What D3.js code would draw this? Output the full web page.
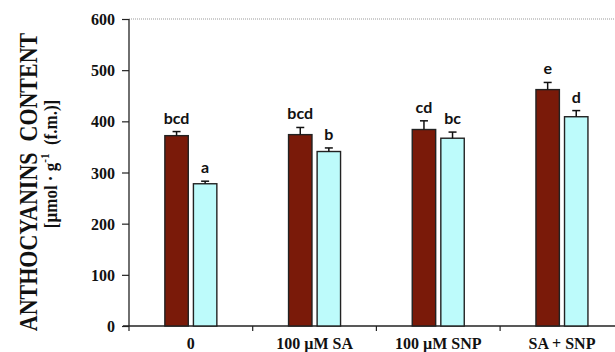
<!DOCTYPE html>
<html>
<head>
<meta charset="utf-8">
<script src="https://cdn.jsdelivr.net/npm/d3@7"></script>
<style>
  body { margin: 0; background: #fff; }
  .tick-lbl { font-family: "Liberation Serif", "Times New Roman", serif; font-weight: bold; font-size: 16px; fill: #111; }
  .letter { font-family: Lato, "Open Sans", sans-serif; font-weight: bold; font-size: 16px; fill: #111; }
  .ytitle { font-family: "Liberation Serif", "Times New Roman", serif; font-weight: bold; fill: #111; white-space: pre; }
</style>
</head>
<body>
<div id="chart"></div>
<script>
// treatments on the x axis
var categories = ['0', '100 \u00b5M SA', '100 \u00b5M SNP', 'SA + SNP'];
// two series per treatment (dark bar, light bar)
var seriesA = [372, 374, 384, 462];
var errA = [8, 14, 17, 14];
var lettersA = ['bcd', 'bcd', 'cd', 'e'];
var seriesB = [278, 341, 367, 409];
var errB = [5, 7, 12, 12];
var lettersB = ['a', 'b', 'bc', 'd'];
var yTicks = [0, 100, 200, 300, 400, 500, 600];

var width = 615, height = 352;
var margin = {top: 19, left: 129, bottom: 26};
var catStep = 123.7;

var svg = d3.select('#chart').append('svg')
    .attr('width', width)
    .attr('height', height);

var y = d3.scaleLinear()
    .domain([0, 600])
    .range([height - margin.bottom, margin.top]);

var x = d3.scaleBand()
    .domain(categories)
    .range([margin.left, margin.left + catStep * categories.length])
    .padding(0);

var sub = d3.scaleBand()
    .domain(['A', 'B'])
    .range([-26, 26])
    .paddingInner(0.18);

var colors = {A: '#7a1a09', B: '#bdfbfb'};

// build rows
var rows = [];
categories.forEach(function(c, i) {
    rows.push({cat: c, s: 'A', v: seriesA[i], e: errA[i], l: lettersA[i]});
    rows.push({cat: c, s: 'B', v: seriesB[i], e: errB[i], l: lettersB[i]});
});

// dotted gridline at top
svg.append('line')
    .attr('x1', margin.left).attr('x2', width)
    .attr('y1', y(600)).attr('y2', y(600))
    .attr('stroke', '#999')
    .attr('stroke-width', 1)
    .attr('stroke-dasharray', '1,1');

// y axis
var yAxis = d3.axisLeft(y).tickValues(yTicks).tickSize(7).tickPadding(7);
var gy = svg.append('g')
    .attr('transform', 'translate(' + margin.left + ',0)')
    .call(yAxis);
gy.select('.domain').attr('stroke', '#222').attr('stroke-width', 1.3).attr('d', 'M0,' + y(600) + 'V' + y(0));
gy.selectAll('.tick line').attr('stroke', '#222').attr('stroke-width', 1.2);
gy.selectAll('.tick text').attr('class', 'tick-lbl').attr('dy', '0.35em');

// x axis
svg.append('line')
    .attr('x1', margin.left - 6).attr('x2', width)
    .attr('y1', y(0)).attr('y2', y(0))
    .attr('stroke', '#222').attr('stroke-width', 1.3);

svg.append('g').selectAll('.cat-tick')
    .data(d3.range(categories.length))
    .enter().append('line')
    .attr('x1', function(i) { return x.range()[0] + i * x.step(); })
    .attr('x2', function(i) { return x.range()[0] + i * x.step(); })
    .attr('y1', y(0))
    .attr('y2', y(0) + 5)
    .attr('stroke', '#222').attr('stroke-width', 1.2);

svg.append('g').selectAll('.cat-lbl')
    .data(categories)
    .enter().append('text')
    .attr('class', 'tick-lbl')
    .attr('x', function(d) { return x(d) + x.bandwidth() / 2; })
    .attr('y', 349)
    .attr('text-anchor', 'middle')
    .text(function(d) { return d; });

// bars
function barX(d) { return x(d.cat) + x.bandwidth() / 2 + sub(d.s); }

svg.append('g').selectAll('rect')
    .data(rows)
    .enter().append('rect')
    .attr('x', barX)
    .attr('y', function(d) { return y(d.v); })
    .attr('width', sub.bandwidth())
    .attr('height', function(d) { return y(0) - y(d.v); })
    .attr('fill', function(d) { return colors[d.s]; })
    .attr('stroke', '#222')
    .attr('stroke-width', 1.4);

// error bars (upper only)
var eb = svg.append('g').attr('stroke', '#111').attr('stroke-width', 1.5);
rows.forEach(function(d) {
    var cx = barX(d) + sub.bandwidth() / 2;
    eb.append('line').attr('x1', cx).attr('x2', cx)
        .attr('y1', y(d.v)).attr('y2', y(d.v + d.e));
    eb.append('line').attr('x1', cx - 4).attr('x2', cx + 4)
        .attr('y1', y(d.v + d.e)).attr('y2', y(d.v + d.e));
});

// significance letters
svg.append('g').selectAll('.letter')
    .data(rows)
    .enter().append('text')
    .attr('class', 'letter')
    .attr('x', function(d) { return barX(d) + sub.bandwidth() / 2; })
    .attr('y', function(d) { return y(d.v + d.e) - 8; })
    .attr('text-anchor', 'middle')
    .text(function(d) { return d.l; });

// y title
svg.append('text')
    .attr('class', 'ytitle')
    .attr('transform', 'translate(37,182) rotate(-90) scale(1,1.1)')
    .attr('text-anchor', 'middle')
    .style('font-size', '22px')
    .text('ANTHOCYANINS  CONTENT');

var t2 = svg.append('text')
    .attr('class', 'ytitle')
    .attr('transform', 'translate(57,164) rotate(-90) scale(1,1.1)')
    .attr('text-anchor', 'middle')
    .style('font-size', '17px');
t2.append('tspan').text('[\u00b5mol \u00b7 g');
t2.append('tspan').attr('dy', -7).style('font-size', '11px').text('-1');
t2.append('tspan').attr('dy', 7).text('  (f.m.)]');
</script>
</body>
</html>
